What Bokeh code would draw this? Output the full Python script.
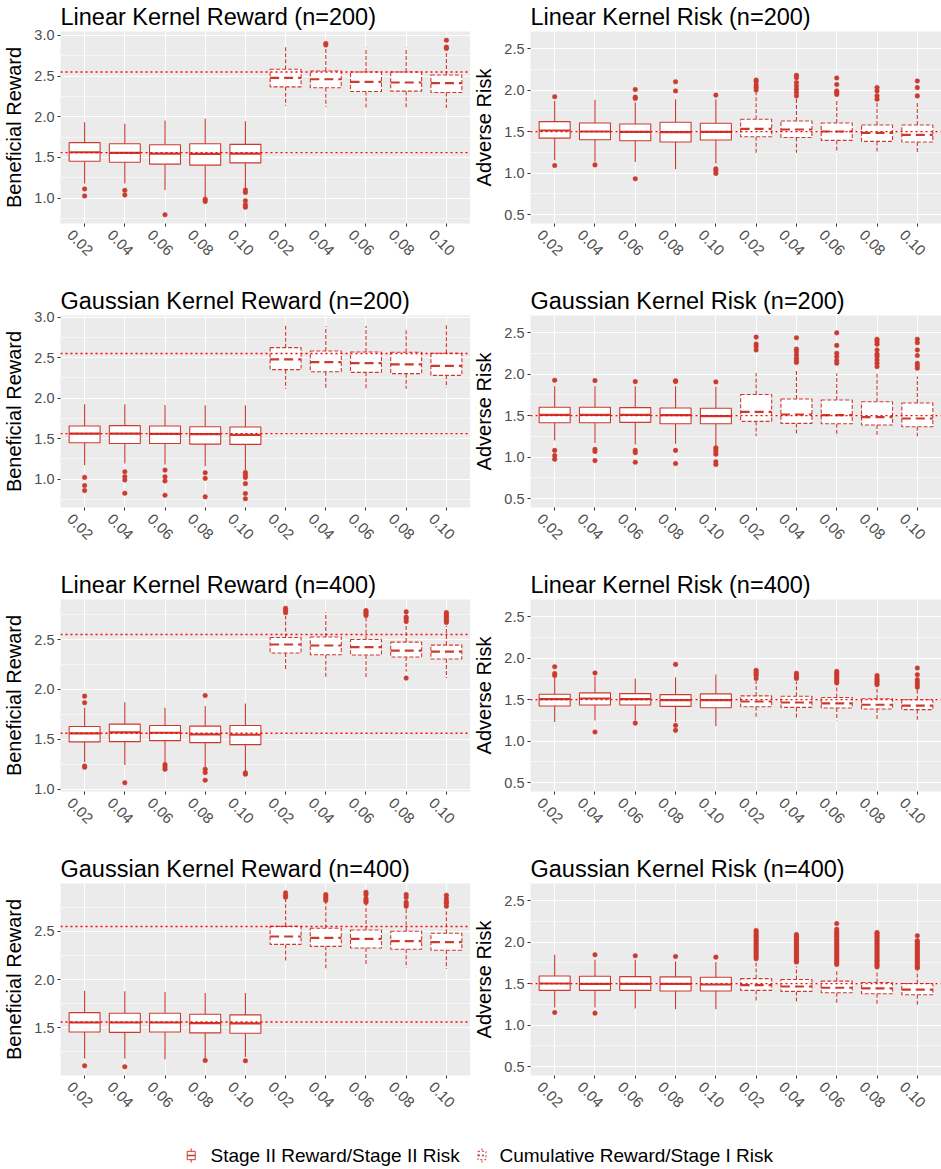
import numpy as np
from bokeh.plotting import figure
from bokeh.models import Range1d, FixedTicker, Span, NumeralTickFormatter, LinearAxis
from bokeh.layouts import column, row
from bokeh.embed import file_html
from bokeh.resources import INLINE
from bokeh.core.properties import value

# ---------------- data ----------------
alpha_labels = ["0.02", "0.04", "0.06", "0.08", "0.10"]
tick_labels = alpha_labels + alpha_labels          # 5 Stage II boxes, then 5 cumulative boxes
series_names = ["Stage II Reward/Stage II Risk", "Cumulative Reward/Stage I Risk"]

reward_refs = [1.56, 2.55]
risk_refs = [1.5]
risk_limits = [0.5, 2.6]

# Linear kernel reward n=200
lr200_lo = [1.18, 1.18, 1.10, 1.00, 1.12, 2.136, 2.124, 2.103, 2.107, 2.107]
lr200_q1 = [1.454, 1.442, 1.418, 1.406, 1.434, 2.367, 2.355, 2.31, 2.314, 2.298]
lr200_med = [1.564, 1.556, 1.548, 1.544, 1.548, 2.477, 2.46, 2.428, 2.42, 2.412]
lr200_q3 = [1.682, 1.669, 1.657, 1.669, 1.661, 2.582, 2.562, 2.55, 2.55, 2.513]
lr200_hi = [1.933, 1.913, 1.953, 1.974, 1.945, 2.866, 2.846, 2.846, 2.846, 2.785]
lr200_out = [[1.114, 1.028], [1.097, 1.04], [0.797], [0.988, 0.96], [1.10, 1.07, 0.97, 0.92, 0.89],
             [], [2.899, 2.88], [], [], [2.939, 2.854, 2.838]]

# Linear kernel risk n=200
lk200_lo = [1.156, 1.14, 1.136, 1.049, 1.116, 1.247, 1.247, 1.247, 1.247, 1.247]
lk200_q1 = [1.422, 1.403, 1.391, 1.375, 1.399, 1.438, 1.43, 1.395, 1.383, 1.375]
lk200_med = [1.514, 1.502, 1.498, 1.494, 1.498, 1.534, 1.526, 1.502, 1.486, 1.462]
lk200_q3 = [1.621, 1.605, 1.593, 1.613, 1.601, 1.649, 1.629, 1.605, 1.58, 1.58]
lk200_hi = [1.87, 1.884, 1.85, 1.89, 1.89, 1.97, 1.91, 1.89, 1.86, 1.852]
lk200_out = [[1.92, 1.092], [1.10], [2.007, 1.915, 1.90, 0.933], [2.10, 1.99], [1.94, 1.053, 1.03, 0.997],
             [2.12, 2.10, 2.06, 2.03, 2.00], [2.178, 2.15, 2.09, 2.05, 2.01, 1.97, 1.93],
             [2.146, 2.067, 1.99, 1.97, 1.947], [2.03, 1.99, 1.93, 1.89], [2.11, 2.03, 1.93]]

# Gaussian kernel reward n=200
gr200_lo = [1.171, 1.19, 1.179, 1.159, 1.11, 2.114, 2.106, 2.106, 2.114, 2.126]
gr200_q1 = [1.447, 1.439, 1.439, 1.431, 1.427, 2.35, 2.325, 2.317, 2.301, 2.28]
gr200_med = [1.561, 1.561, 1.557, 1.553, 1.545, 2.476, 2.443, 2.431, 2.415, 2.398]
gr200_q3 = [1.654, 1.659, 1.654, 1.646, 1.642, 2.622, 2.581, 2.569, 2.565, 2.553]
gr200_hi = [1.923, 1.923, 1.915, 1.911, 1.911, 2.898, 2.886, 2.89, 2.858, 2.911]
gr200_out = [[1.02, 0.919, 0.858], [1.089, 1.028, 0.988, 0.825], [1.11, 1.028, 0.976, 0.80],
             [1.077, 1.008, 0.78], [1.08, 1.05, 1.02, 0.943, 0.821, 0.756],
             [], [], [], [], []]

# Gaussian kernel risk n=200
gk200_lo = [1.201, 1.17, 1.153, 1.161, 1.142, 1.252, 1.268, 1.252, 1.252, 1.252]
gk200_q1 = [1.415, 1.415, 1.419, 1.403, 1.403, 1.431, 1.407, 1.403, 1.387, 1.367]
gk200_med = [1.51, 1.51, 1.51, 1.506, 1.494, 1.546, 1.514, 1.506, 1.482, 1.466]
gk200_q3 = [1.601, 1.601, 1.597, 1.593, 1.589, 1.755, 1.70, 1.688, 1.668, 1.652]
gk200_hi = [1.854, 1.854, 1.854, 1.854, 1.847, 2.013, 2.05, 2.01, 2.01, 1.97]
gk200_out = [[1.926, 1.082, 1.019, 0.975], [1.922, 1.094, 1.07, 0.959], [1.91, 1.082, 1.054, 0.94],
             [1.92, 1.91, 1.082, 0.924], [1.906, 1.114, 1.09, 1.062, 1.035, 0.944, 0.912],
             [2.445, 2.361, 2.33, 2.29],
             [2.437, 2.30, 2.27, 2.23, 2.19, 2.16, 2.14],
             [2.496, 2.345, 2.25, 2.21, 2.163, 2.13],
             [2.42, 2.39, 2.36, 2.29, 2.24, 2.21, 2.17, 2.13, 2.09],
             [2.42, 2.377, 2.29, 2.223, 2.131, 2.10, 2.07]]

# Linear kernel reward n=400
lr400_lo = [1.271, 1.241, 1.268, 1.222, 1.182, 2.196, 2.113, 2.113, 2.18, 2.113]
lr400_q1 = [1.473, 1.476, 1.486, 1.466, 1.446, 2.365, 2.348, 2.345, 2.325, 2.305]
lr400_med = [1.558, 1.568, 1.565, 1.549, 1.545, 2.45, 2.44, 2.424, 2.388, 2.378]
lr400_q3 = [1.628, 1.651, 1.638, 1.631, 1.638, 2.52, 2.526, 2.50, 2.474, 2.444]
lr400_hi = [1.816, 1.872, 1.816, 1.833, 1.859, 2.735, 2.774, 2.725, 2.665, 2.635]
lr400_out = [[1.932, 1.866, 1.231, 1.218], [1.063], [1.245, 1.222, 1.198], [1.938, 1.198, 1.165, 1.089],
             [1.162, 1.149], [2.814, 2.791, 2.768], [], [2.79, 2.774, 2.758, 2.741],
             [2.777, 2.725, 2.708, 2.682, 2.113], [2.77, 2.75, 2.73, 2.71, 2.69, 2.67]]

# Linear kernel risk n=400
lk400_lo = [1.23, 1.25, 1.25, 1.23, 1.179, 1.289, 1.265, 1.25, 1.25, 1.25]
lk400_q1 = [1.423, 1.435, 1.435, 1.419, 1.403, 1.415, 1.407, 1.40, 1.388, 1.38]
lk400_med = [1.506, 1.514, 1.506, 1.494, 1.494, 1.478, 1.466, 1.455, 1.439, 1.427]
lk400_q3 = [1.565, 1.581, 1.573, 1.561, 1.569, 1.545, 1.541, 1.526, 1.51, 1.498]
lk400_hi = [1.76, 1.782, 1.754, 1.77, 1.802, 1.72, 1.715, 1.664, 1.636, 1.624]
lk400_out = [[1.896, 1.814, 1.79], [1.821, 1.111], [1.218], [1.924, 1.19, 1.131], [],
             [1.853, 1.83, 1.81, 1.79, 1.754], [1.818, 1.79, 1.77, 1.754],
             [1.84, 1.82, 1.80, 1.78, 1.76, 1.74, 1.72, 1.70],
             [1.79, 1.76, 1.74, 1.72, 1.70, 1.68], [1.88, 1.80, 1.74, 1.71, 1.68, 1.65]]

# Gaussian kernel reward n=400
gr400_lo = [1.18, 1.18, 1.173, 1.18, 1.197, 2.177, 2.116, 2.15, 2.122, 2.109]
gr400_q1 = [1.456, 1.452, 1.456, 1.446, 1.442, 2.364, 2.344, 2.327, 2.313, 2.303]
gr400_med = [1.554, 1.554, 1.554, 1.548, 1.544, 2.446, 2.432, 2.422, 2.398, 2.388]
gr400_q3 = [1.656, 1.65, 1.65, 1.64, 1.633, 2.551, 2.531, 2.514, 2.50, 2.48]
gr400_hi = [1.884, 1.878, 1.871, 1.861, 1.861, 2.847, 2.803, 2.779, 2.745, 2.711]
gr400_out = [[1.105], [1.095], [], [1.16], [1.157],
             [2.898, 2.87, 2.854], [2.88, 2.86, 2.84, 2.82], [2.905, 2.88, 2.84, 2.82, 2.80],
             [2.88, 2.85, 2.80, 2.78, 2.76], [2.874, 2.84, 2.81, 2.79, 2.76]]

# Gaussian kernel risk n=400
gk400_lo = [1.213, 1.213, 1.20, 1.193, 1.193, 1.272, 1.264, 1.264, 1.252, 1.244]
gk400_q1 = [1.419, 1.419, 1.419, 1.411, 1.411, 1.419, 1.407, 1.391, 1.379, 1.367]
gk400_med = [1.502, 1.498, 1.498, 1.498, 1.49, 1.482, 1.466, 1.451, 1.443, 1.427]
gk400_q3 = [1.593, 1.589, 1.585, 1.581, 1.577, 1.561, 1.55, 1.53, 1.514, 1.502]
gk400_hi = [1.847, 1.787, 1.787, 1.767, 1.76, 1.77, 1.71, 1.668, 1.656, 1.656]
gk400_out = [[1.153], [1.847, 1.145], [1.835], [1.827], [1.819],
             [2.14, 2.12, 2.10, 2.08, 2.06, 2.04, 2.02, 2.00, 1.98, 1.96, 1.94, 1.92, 1.90, 1.88, 1.86, 1.84, 1.82, 1.80],
             [2.09, 2.07, 2.05, 2.03, 2.01, 1.99, 1.97, 1.95, 1.93, 1.91, 1.89, 1.87, 1.85, 1.83, 1.81, 1.79, 1.77, 1.76],
             [2.223, 2.155, 2.13, 2.11, 2.09, 2.07, 2.05, 2.03, 2.01, 1.99, 1.97, 1.95, 1.93, 1.91, 1.89, 1.87, 1.85, 1.83, 1.81, 1.79, 1.77, 1.75, 1.73],
             [2.116, 2.10, 2.08, 2.06, 2.04, 2.02, 2.00, 1.98, 1.96, 1.94, 1.92, 1.90, 1.88, 1.86, 1.84, 1.82, 1.80, 1.78, 1.76, 1.74, 1.72, 1.70],
             [2.076, 2.017, 2.00, 1.98, 1.96, 1.94, 1.92, 1.90, 1.88, 1.86, 1.84, 1.82, 1.80, 1.78, 1.76, 1.74, 1.72, 1.70, 1.688]]

# ---------------- style ----------------
FONT = "Liberation Sans"
RED = "#CB3A2E"
REF_RED = "#FF0000"
BOX_W = 0.77
ROW_H = 284
TOP_B = 28
BOT_B = 61
LABEL_SHIFT_PX = 15.0     # rotated tick labels start left of their tick, as in ggplot


def expand(lo, hi, f=0.05):
    r = hi - lo
    return lo - f * r, hi + f * r


def style_text_axis(ax, size="14.5px"):
    ax.axis_line_color = None
    ax.minor_tick_line_color = None
    ax.major_label_text_font = FONT
    ax.major_label_text_font_size = size
    ax.major_label_text_color = "#4D4D4D"


def make_panel(title, ylabel, lo, q1, med, q3, hi, out, refs, ylim, width, left_b):
    xs = np.arange(1, len(tick_labels) + 1)
    x0, x1 = 0.4, len(xs) + 0.6
    y0, y1 = ylim
    p = figure(width=width, height=ROW_H, x_range=Range1d(x0, x1),
               y_range=Range1d(y0, y1), output_backend="svg", toolbar_location=None,
               min_border_left=left_b, min_border_right=0, min_border_top=TOP_B,
               min_border_bottom=BOT_B, background_fill_color="#EBEBEB",
               border_fill_color="white", outline_line_color=None, title=title)
    p.title.text_font = FONT
    p.title.text_font_size = "23.5px"
    p.title.text_font_style = "normal"
    p.title.text_color = "black"
    p.title.align = "left"
    p.title.standoff = 3
    p.title.offset = 0

    major = [v for v in [0.5, 1.0, 1.5, 2.0, 2.5, 3.0] if y0 <= v <= y1]
    minor = [v for v in [0.25, 0.75, 1.25, 1.75, 2.25, 2.75, 3.25] if y0 <= v <= y1]

    yax = p.yaxis[0]
    yax.ticker = FixedTicker(ticks=major, minor_ticks=minor)
    yax.formatter = NumeralTickFormatter(format="0.0")
    style_text_axis(yax)
    yax.major_tick_in = 0
    yax.major_tick_out = 3
    yax.major_tick_line_color = "#333333"
    yax.major_label_standoff = 2
    yax.axis_label = ylabel
    yax.axis_label_text_font = FONT
    yax.axis_label_text_font_size = "20px"
    yax.axis_label_text_font_style = "normal"
    yax.axis_label_text_color = "black"
    yax.axis_label_standoff = 6

    # tick marks only
    xax = p.xaxis[0]
    xax.ticker = FixedTicker(ticks=list(xs), minor_ticks=[])
    xax.axis_line_color = None
    xax.minor_tick_line_color = None
    xax.major_tick_in = 0
    xax.major_tick_out = 3
    xax.major_tick_line_color = "#333333"
    xax.major_label_overrides = {int(x): "" for x in xs}
    xax.major_label_text_font_size = "0px"
    xax.major_label_standoff = 0

    # labels, on a range shifted so that each label starts left of its tick
    frame_w = width - left_b
    shift = LABEL_SHIFT_PX * (x1 - x0) / frame_w
    p.extra_x_ranges = {"labels": Range1d(x0 + shift, x1 + shift)}
    lab = LinearAxis(x_range_name="labels", ticker=FixedTicker(ticks=list(xs), minor_ticks=[]))
    style_text_axis(lab, "15px")
    lab.major_tick_line_color = None
    lab.major_tick_in = 0
    lab.major_tick_out = 0
    lab.major_label_overrides = {int(x): t for x, t in zip(xs, tick_labels)}
    lab.major_label_orientation = -np.pi / 4
    lab.major_label_standoff = 6
    p.add_layout(lab, "below")

    p.xgrid.grid_line_color = "white"
    p.xgrid.grid_line_width = 1.1
    p.ygrid.grid_line_color = "white"
    p.ygrid.grid_line_width = 1.1
    p.ygrid.minor_grid_line_color = "white"
    p.ygrid.minor_grid_line_width = 0.55

    lo, q1, med, q3, hi = map(np.asarray, (lo, q1, med, q3, hi))
    n = len(alpha_labels)
    for sl, dash, mdash in [(slice(0, n), "solid", "solid"), (slice(n, 2 * n), "4 2", "9 5")]:
        x = xs[sl]
        p.segment(x, q3[sl], x, hi[sl], line_color=RED, line_width=1.1, line_dash=dash)
        p.segment(x, q1[sl], x, lo[sl], line_color=RED, line_width=1.1, line_dash=dash)
        p.vbar(x=x, width=BOX_W, bottom=q1[sl], top=q3[sl], fill_color="white",
               line_color=RED, line_width=1.1, line_dash=dash)
        p.segment(x - BOX_W / 2, med[sl], x + BOX_W / 2, med[sl], line_color=RED,
                  line_width=2.2, line_dash=mdash)
    ox = [x for x, o in zip(xs, out) for _ in o]
    oy = [v for o in out for v in o]
    p.scatter(ox, oy, size=4.6, fill_color=RED, line_color=RED, line_width=0.5)

    for r in refs:
        p.add_layout(Span(location=r, dimension="width", line_color=REF_RED,
                          line_dash="2 3", line_width=1.4))
    return p


def data_lim(*arrs):
    vals = []
    for a in arrs:
        for v in a:
            if isinstance(v, list):
                vals.extend(v)
            else:
                vals.append(v)
    return expand(min(vals), max(vals))


risk_lim = expand(*risk_limits)

panels = [
    ("Linear Kernel Reward (n=200)", "Beneficial Reward", lr200_lo, lr200_q1, lr200_med, lr200_q3, lr200_hi, lr200_out, reward_refs, None),
    ("Linear Kernel Risk (n=200)", "Adverse Risk", lk200_lo, lk200_q1, lk200_med, lk200_q3, lk200_hi, lk200_out, risk_refs, risk_lim),
    ("Gaussian Kernel Reward (n=200)", "Beneficial Reward", gr200_lo, gr200_q1, gr200_med, gr200_q3, gr200_hi, gr200_out, reward_refs, None),
    ("Gaussian Kernel Risk (n=200)", "Adverse Risk", gk200_lo, gk200_q1, gk200_med, gk200_q3, gk200_hi, gk200_out, risk_refs, risk_lim),
    ("Linear Kernel Reward (n=400)", "Beneficial Reward", lr400_lo, lr400_q1, lr400_med, lr400_q3, lr400_hi, lr400_out, reward_refs, None),
    ("Linear Kernel Risk (n=400)", "Adverse Risk", lk400_lo, lk400_q1, lk400_med, lk400_q3, lk400_hi, lk400_out, risk_refs, risk_lim),
    ("Gaussian Kernel Reward (n=400)", "Beneficial Reward", gr400_lo, gr400_q1, gr400_med, gr400_q3, gr400_hi, gr400_out, reward_refs, None),
    ("Gaussian Kernel Risk (n=400)", "Adverse Risk", gk400_lo, gk400_q1, gk400_med, gk400_q3, gk400_hi, gk400_out, risk_refs, risk_lim),
]

figs = []
for i, (t, yl, lo, q1, md, q3, hi, out, refs, lim) in enumerate(panels):
    if lim is None:
        lim = data_lim(lo, hi, out)
    left = (i % 2 == 0)
    figs.append(make_panel(t, yl, lo, q1, md, q3, hi, out, refs, lim,
                           470 if left else 471, 56 if left else 58))

# ---------------- legend ----------------
LEG_H = 33
leg = figure(width=941, height=LEG_H, x_range=Range1d(0, 941), y_range=Range1d(0, LEG_H),
             output_backend="svg", toolbar_location=None, min_border=0,
             outline_line_color=None, background_fill_color="white", border_fill_color="white")
leg.axis.visible = False
leg.grid.visible = False
icon_x = [190.7, 481.5]
text_x = [210, 499]
icon_dash = ["solid", "2 2"]
cy = 14
for ix, tx, dash, name in zip(icon_x, text_x, icon_dash, series_names):
    leg.segment([ix], [cy - 7], [ix], [cy + 7], line_color=RED, line_width=1, line_dash=dash)
    leg.quad(left=[ix - 4], right=[ix + 4], bottom=[cy - 4.2], top=[cy + 4.2], fill_color="white",
             line_color=RED, line_width=1, line_dash=dash)
    leg.segment([ix - 4], [cy], [ix + 4], [cy], line_color=RED, line_width=1.6, line_dash=dash)
    leg.text([tx], [cy], text=[name], text_font=value(FONT), text_font_size="19px",
             text_baseline="middle", text_align="left", text_color="black")

layout = column(row(figs[0], figs[1]), row(figs[2], figs[3]), row(figs[4], figs[5]),
                row(figs[6], figs[7]), leg)

open("out.html", "w").write(file_html(layout, INLINE))
